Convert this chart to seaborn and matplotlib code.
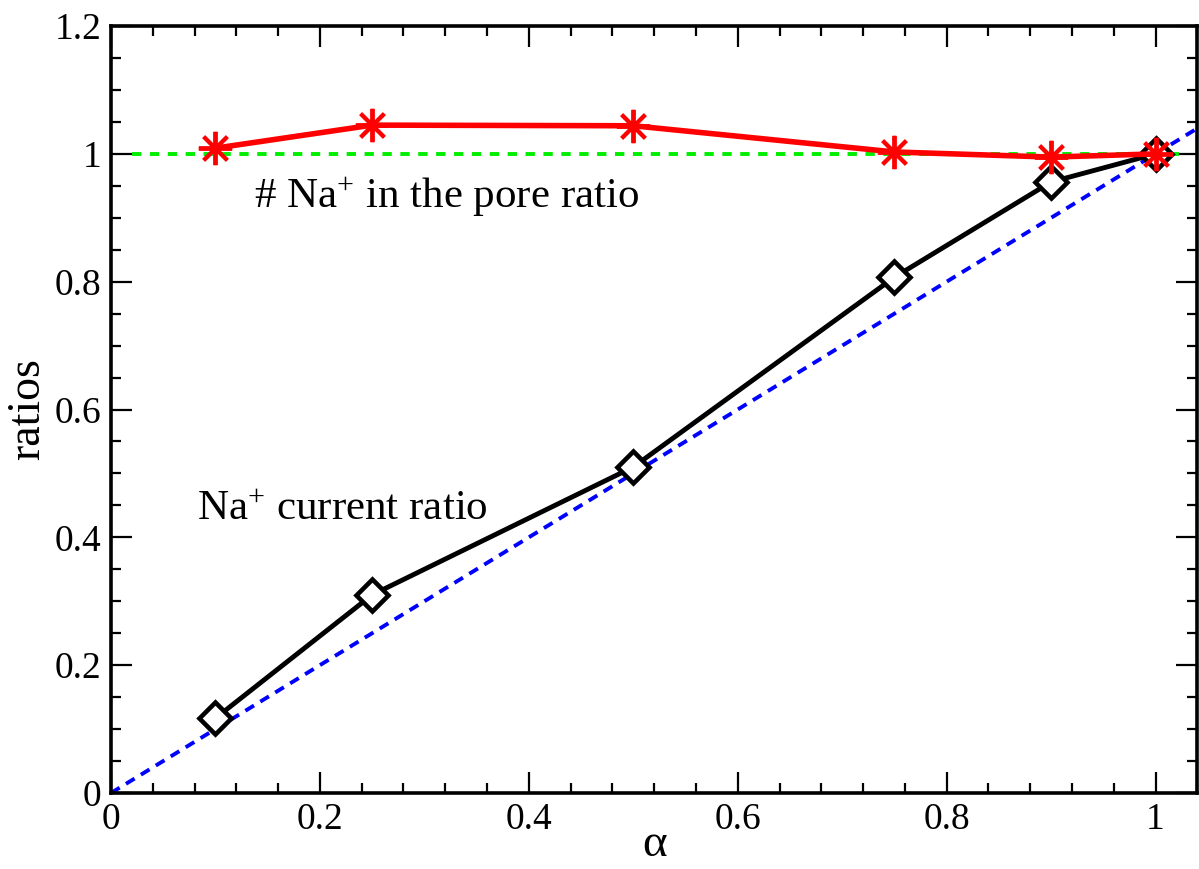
import matplotlib
matplotlib.use("Agg")
import matplotlib.pyplot as plt
import seaborn as sns
import numpy as np
from matplotlib.ticker import MultipleLocator

alpha = [0.1, 0.25, 0.5, 0.75, 0.9, 1.0]
pore_ratio = [1.009, 1.045, 1.044, 1.003, 0.995, 1.0]
current_ratio = [0.117, 0.31, 0.51, 0.807, 0.956, 1.0]
diag_x = [0.0, 1.04]
diag_y = [0.0, 1.04]
ref_x = [0.02, 1.03]
ref_y = [1.0, 1.0]
xtick_vals = [0, 0.2, 0.4, 0.6, 0.8, 1.0]
xtick_labels = ['0', '0.2', '0.4', '0.6', '0.8', '1']
ytick_vals = [0, 0.2, 0.4, 0.6, 0.8, 1.0, 1.2]
ytick_labels = ['0', '0.2', '0.4', '0.6', '0.8', '1', '1.2']

sns.set_theme(style="ticks")
plt.rcParams['font.family'] = ['Liberation Serif', 'DejaVu Serif']
plt.rcParams['mathtext.fontset'] = 'custom'
plt.rcParams['mathtext.rm'] = 'Liberation Serif'
plt.rcParams['mathtext.it'] = 'Liberation Serif:italic'
plt.rcParams['text.color'] = 'black'
plt.rcParams['axes.labelcolor'] = 'black'
plt.rcParams['xtick.color'] = 'black'
plt.rcParams['ytick.color'] = 'black'

fig = plt.figure(figsize=(11.99, 8.69), dpi=100)
ax = fig.add_axes([0.0926, 0.0875, 0.906, 0.8825])

sns.lineplot(x=diag_x, y=diag_y, ax=ax, color='#0000ff', linewidth=2.8, zorder=2)
ax.lines[-1].set_dashes([2.6, 1.9])
sns.lineplot(x=ref_x, y=ref_y, ax=ax, color='#00ee00', linewidth=2.8, zorder=2)
ax.lines[-1].set_dashes([2.4, 2.2])
sns.lineplot(x=alpha, y=current_ratio, ax=ax, color='black', linewidth=3.5,
             marker='D', markersize=16, markerfacecolor='white',
             markeredgecolor='black', markeredgewidth=3.3, zorder=3)
sns.lineplot(x=alpha, y=pore_ratio, ax=ax, color='red', linewidth=4.0,
             marker=(8, 2, 0), markersize=24, markeredgecolor='red',
             markeredgewidth=2.8, zorder=4)

ax.set_xlim(0, 1.04)
ax.set_ylim(0, 1.2)
ax.xaxis.set_minor_locator(MultipleLocator(0.04))
ax.yaxis.set_minor_locator(MultipleLocator(0.05))
ax.set_xticks(xtick_vals)
ax.set_xticklabels(xtick_labels)
ax.set_yticks(ytick_vals)
ax.set_yticklabels(ytick_labels)

ax.tick_params(which='both', direction='in', top=True, right=True,
               labelsize=27, colors='black', width=1.6)
ax.tick_params(which='major', length=15, pad=7)
ax.tick_params(which='minor', length=7)
for s in ax.spines.values():
    s.set_linewidth(2.6)
    s.set_color('black')
    s.set_visible(True)

ax.set_xlabel('α', fontsize=34, labelpad=-10)
ax.set_ylabel('ratios', fontsize=33, labelpad=4)

ax.text(0.137, 0.915, '# Na$^{+}$ in the pore ratio', fontsize=31,
        ha='left', va='baseline')
ax.text(0.0825, 0.427, 'Na$^{+}$ current ratio', fontsize=31,
        ha='left', va='baseline')

fig.savefig('out.png', dpi=100)
